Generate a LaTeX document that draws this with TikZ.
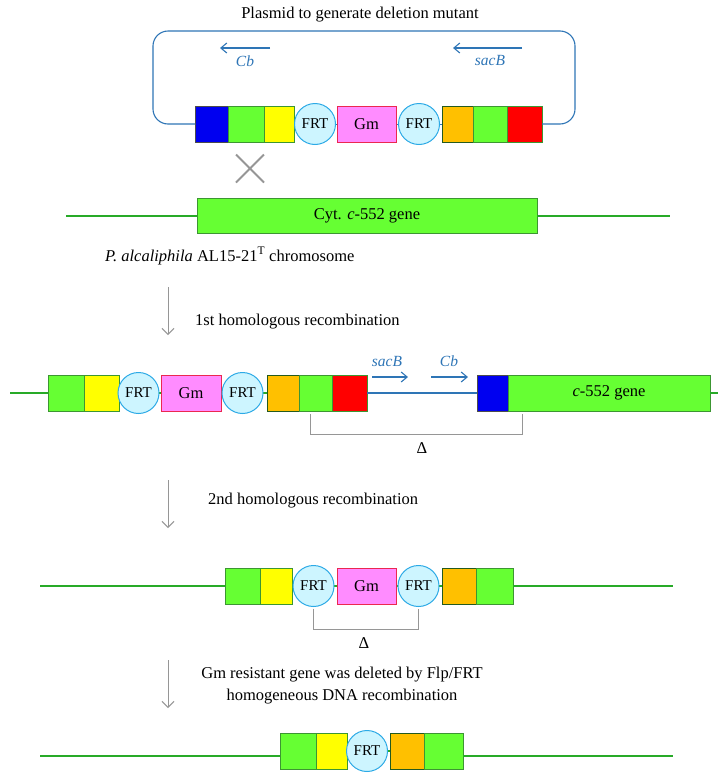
\documentclass[tikz,border=0pt]{standalone}
\usepackage{fontspec}
\setmainfont{Liberation Serif}
\usepackage{tikz}
\usetikzlibrary{arrows.meta, shapes, positioning}
\usepackage{xcolor}
\pgfdeclarelayer{background}
\pgfsetlayers{background,main}
\definecolor{genegreen}{RGB}{102,255,51}
\definecolor{geneyellow}{RGB}{255,255,0}
\definecolor{geneblue}{RGB}{0,0,240}
\definecolor{geneorange}{RGB}{255,192,0}
\definecolor{genered}{RGB}{255,0,0}
\definecolor{gmpink}{RGB}{255,140,255}
\definecolor{gmred}{RGB}{235,40,80}
\definecolor{frtcyan}{RGB}{205,245,255}
\definecolor{frtblue}{RGB}{45,170,230}
\definecolor{plasmidblue}{RGB}{46,117,182}
\definecolor{boxline}{RGB}{60,150,50}
\definecolor{chromgreen}{RGB}{40,170,40}
\definecolor{markgray}{RGB}{150,150,150}
\tikzset{genebox/.style={rectangle, draw=boxline, line width=1pt, minimum height=36pt, inner sep=0pt, outer sep=0pt},
greengene/.style={genebox, fill=genegreen},
yellowgene/.style={genebox, fill=geneyellow},
bluegene/.style={genebox, fill=geneblue, draw=black!70},
orangegene/.style={genebox, fill=geneorange, draw=black!40!boxline},
redgene/.style={genebox, fill=genered},
gmgene/.style={genebox, fill=gmpink, draw=gmred},
frtsite/.style={circle, fill=frtcyan, draw=frtblue, line width=1pt, minimum size=41pt, inner sep=0pt, outer sep=0pt, font=\fontsize{15pt}{18pt}\selectfont}}

\begin{document}
\begin{tikzpicture}[
        x=1pt, y=-1pt,
        font=\fontsize{16.5pt}{22pt}\selectfont,
        textlabel/.style={inner sep=0pt},
        genelabel/.style={inner sep=0pt, text=plasmidblue, font=\fontsize{15.5pt}{18pt}\selectfont\itshape},
        genearrow/.style={plasmidblue, line width=1.1pt, -{Straight Barb[length=6pt, width=10pt]}},
        downarrow/.style={markgray, line width=1pt, -{Straight Barb[length=6pt, width=12pt]}},
        plasmidline/.style={plasmidblue, line width=1.1pt},
        chromline/.style={chromgreen, line width=1.3pt},
        bracketline/.style={markgray, line width=1pt}
    ]
        \useasboundingbox (0,0) rectangle (728,782);
        % Plasmid
        \node[textlabel] (title) at (360,15) {Plasmid to generate deletion mutant};
        \node[bluegene, minimum width=33pt, anchor=west] (p1) at (195,124) {};
        \node[greengene, minimum width=36pt, right=0pt of p1] (p2) {};
        \node[yellowgene, minimum width=30pt, right=0pt of p2] (p3) {};
        \node[frtsite, right=0.5pt of p3] (p4) {FRT};
        \node[gmgene, minimum width=59pt, right=1.5pt of p4] (p5) {Gm};
        \node[frtsite, right=2.5pt of p5] (p6) {FRT};
        \node[orangegene, minimum width=31pt, right=2.5pt of p6] (p7) {};
        \node[greengene, minimum width=34pt, right=0pt of p7] (p8) {};
        \node[redgene, minimum width=35pt, right=0pt of p8] (p9) {};
        \coordinate (loopnw) at (153,31);
        \coordinate (loopse) at (575,124);
        \draw[plasmidline, rounded corners=15pt] (p1.west) -| (loopnw) -| (loopse) -- (p9.east);
        \begin{pgfonlayer}{background}
            \draw[plasmidline, line width=0.8pt] (p3.east) -- (p7.west);
        \end{pgfonlayer}
        \node[genelabel] (cbtop) at (245,61) {Cb};
        \node[genelabel] (sacbtop) at (490,61) {sacB};
        % Gene arrows
        \foreach \name/\xa/\xb/\ya in {cbtop/270/220/48, sacbtop/522/453/48, sacbmid/372/408/377, cbmid/431/468/377} {
            \coordinate (\name a) at (\xa,\ya);
            \coordinate (\name b) at (\xb,\ya);
            \draw[genearrow] (\name a) -- (\name b);
        }
        \node[cross out, draw=markgray, line width=2pt, minimum size=26pt, inner sep=0pt] (cross) at (250,168.5) {};
        % Chromosome
        \node[greengene, minimum width=340pt, minimum height=35pt] (cyt) at (367,215.5) {Cyt. \textit{c}-552 gene};
        \coordinate (chrL) at (66,216);
        \coordinate (chrR) at (670,216);
        \draw[chromline] (chrL) -- (chrL -| cyt.west) (chrR -| cyt.east) -- (chrR);
        \node[textlabel, anchor=west] (chrlabel) at (105,256) {\textit{P. alcaliphila} AL15-21\textsuperscript{T} chromosome};
        % Steps
        \foreach \i/\y in {1/287, 2/480, 3/660} {
            \coordinate (down\i a) at (168,\y);
            \coordinate (down\i b) at (168,\y+48);
            \draw[downarrow] (down\i a) -- (down\i b);
        }
        \node[textlabel, anchor=west] (step1) at (195,322) {1st homologous recombination};
        \node[textlabel, anchor=west] (step2) at (208,501) {2nd homologous recombination};
        \node[textlabel, align=center] (step3) at (342,686) {Gm resistant gene was deleted by Flp/FRT\\homogeneous DNA recombination};
        % 1st recombination
        \node[greengene, minimum width=36pt, anchor=west] (q1) at (48,393) {};
        \node[yellowgene, minimum width=35pt, right=0pt of q1] (q2) {};
        \node[frtsite, right=-1pt of q2] (q3) {FRT};
        \node[gmgene, minimum width=60pt, right=2pt of q3] (q4) {Gm};
        \node[frtsite, right=1pt of q4] (q5) {FRT};
        \node[orangegene, minimum width=32pt, right=4pt of q5] (q6) {};
        \node[greengene, minimum width=33pt, right=0pt of q6] (q7) {};
        \node[redgene, minimum width=35pt, right=0pt of q7] (q8) {};
        \node[bluegene, minimum width=31pt, anchor=west] (q9) at (477,393) {};
        \node[greengene, minimum width=202pt, right=0pt of q9] (q10) {\textit{c}-552 gene};
        \node[genelabel] (sacbmid) at (387,361) {sacB};
        \node[genelabel] (cbmid) at (449,361) {Cb};
        \coordinate (rowtwoL) at (10,393);
        \coordinate (rowtwoR) at (718,393);
        \draw[chromline] (rowtwoL) -- (q1.west) (q10.east) -- (rowtwoR);
        \draw[plasmidline] (q8.east) -- (q9.west);
        \begin{pgfonlayer}{background}
            \draw[chromline] (q2.east) -- (q6.west);
        \end{pgfonlayer}
        \coordinate (del1a) at (310,414);
        \coordinate (del1b) at (522,414);
        \draw[bracketline] (del1a) -- ++(0,20) -| (del1b);
        \node[textlabel] (delta1) at (422,448) {Δ};
        % 2nd recombination
        \node[greengene, minimum width=35pt, anchor=west] (r1) at (225,586) {};
        \node[yellowgene, minimum width=32pt, right=0pt of r1] (r2) {};
        \node[frtsite, right=1pt of r2] (r3) {FRT};
        \node[gmgene, minimum width=59pt, right=3pt of r3] (r4) {Gm};
        \node[frtsite, right=2pt of r4] (r5) {FRT};
        \node[orangegene, minimum width=34pt, right=3pt of r5] (r6) {};
        \node[greengene, minimum width=37pt, right=0pt of r6] (r7) {};
        \coordinate (rowthreeL) at (40,586);
        \coordinate (rowthreeR) at (673,586);
        \draw[chromline] (rowthreeL) -- (r1.west) (r7.east) -- (rowthreeR);
        \begin{pgfonlayer}{background}
            \draw[chromline] (r2.east) -- (r6.west);
        \end{pgfonlayer}
        \draw[bracketline] ([yshift=-2pt]r3.south) -- ++(0,21) -| ([yshift=-2pt]r5.south);
        \node[textlabel] (delta2) at (364,643) {Δ};
        % Flp/FRT excision
        \node[greengene, minimum width=36pt, anchor=west] (s1) at (280,751) {};
        \node[yellowgene, minimum width=31pt, right=0pt of s1] (s2) {};
        \node[frtsite, right=-0.5pt of s2] (s3) {FRT};
        \node[orangegene, minimum width=34pt, right=2.5pt of s3] (s4) {};
        \node[greengene, minimum width=39pt, right=0pt of s4] (s5) {};
        \coordinate (rowfourL) at (40,756);
        \coordinate (rowfourR) at (673,756);
        \draw[chromline] (rowfourL) -- (rowfourL -| s1.west) (rowfourR -| s5.east) -- (rowfourR);
        \begin{pgfonlayer}{background}
            \draw[chromline] (s2.east) -- (s4.west);
        \end{pgfonlayer}
    \end{tikzpicture}
\end{document}
